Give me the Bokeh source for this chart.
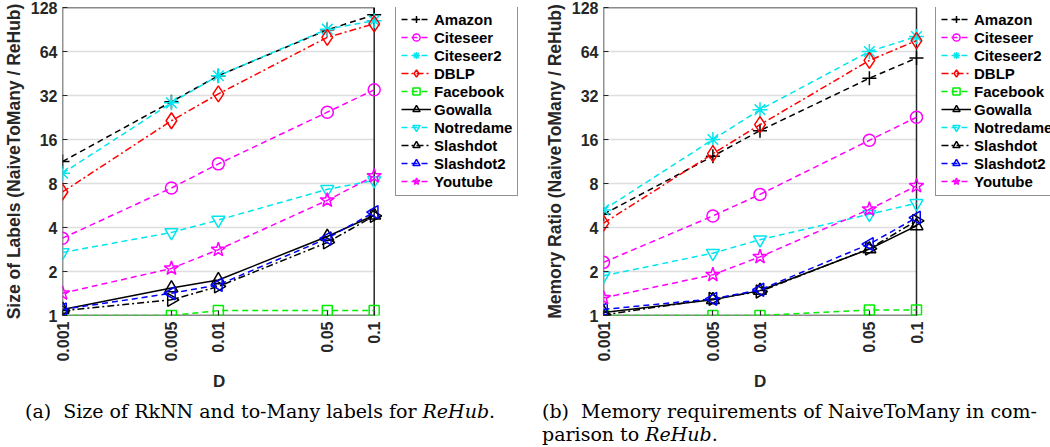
import math
from bokeh.plotting import figure
from bokeh.models import FixedTicker, Legend, Div, BoxAnnotation, Title
from bokeh.layouts import row, column
from bokeh.embed import file_html
from bokeh.resources import INLINE

# ---------------- data ----------------
D = [0.001, 0.005, 0.01, 0.05, 0.1]
d_labels = ["0.001", "0.005", "0.01", "0.05", "0.1"]
y_ticks = [1, 2, 4, 8, 16, 32, 64, 128]

names = ["Amazon", "Citeseer", "Citeseer2", "DBLP", "Facebook",
         "Gowalla", "Notredame", "Slashdot", "Slashdot2", "Youtube"]

# (a) size of labels ratio
labels_amazon = [11.3, 29.0, 43.7, 90.0, 114.0]
labels_citeseer = [3.38, 7.45, 10.9, 24.6, 35.0]
labels_citeseer2 = [9.4, 28.5, 43.7, 91.0, 104.0]
labels_dblp = [7.0, 21.5, 32.8, 80.0, 99.0]
labels_facebook = [1.0, 1.0, 1.08, 1.08, 1.08]
labels_gowalla = [1.1, 1.54, 1.75, 3.47, 4.85]
labels_notredame = [2.7, 3.7, 4.5, 7.3, 8.4]
labels_slashdot = [1.08, 1.28, 1.58, 3.16, 4.8]
labels_slashdot2 = [1.1, 1.42, 1.62, 3.37, 5.1]
labels_youtube = [1.42, 2.1, 2.82, 6.14, 9.0]

# (b) memory ratio
memory_amazon = [4.93, 12.3, 18.4, 42.0, 57.7]
memory_citeseer = [2.31, 4.8, 6.74, 15.8, 22.7]
memory_citeseer2 = [5.28, 16.0, 25.6, 64.0, 81.0]
memory_dblp = [4.28, 12.8, 20.2, 55.6, 76.0]
memory_facebook = [1.0, 1.0, 1.0, 1.09, 1.09]
memory_gowalla = [1.05, 1.28, 1.48, 2.85, 4.1]
memory_notredame = [1.87, 2.67, 3.3, 4.93, 5.86]
memory_slashdot = [1.01, 1.30, 1.46, 2.87, 4.44]
memory_slashdot2 = [1.1, 1.30, 1.5, 3.08, 4.67]
memory_youtube = [1.32, 1.90, 2.52, 5.33, 7.7]

labels_series = [labels_amazon, labels_citeseer, labels_citeseer2, labels_dblp,
                 labels_facebook, labels_gowalla, labels_notredame,
                 labels_slashdot, labels_slashdot2, labels_youtube]
memory_series = [memory_amazon, memory_citeseer, memory_citeseer2, memory_dblp,
                 memory_facebook, memory_gowalla, memory_notredame,
                 memory_slashdot, memory_slashdot2, memory_youtube]

# ---------------- styles ----------------
DASH = "6 4"
DASHDOT = "7 3 2 3"
styles = {
    "Amazon":    dict(color="#000000", dash=DASH, marker="cross", size=14, angle=0.0),
    "Citeseer":  dict(color="#ff00ff", dash=DASH, marker="circle", size=12, angle=0.0),
    "Citeseer2": dict(color="#00e5ee", dash=DASH, marker="asterisk", size=15, angle=0.0),
    "DBLP":      dict(color="#ff0000", dash=DASHDOT, marker="diamond", size=16, angle=0.0),
    "Facebook":  dict(color="#00ee00", dash=DASH, marker="square", size=10, angle=0.0),
    "Gowalla":   dict(color="#000000", dash="solid", marker="triangle", size=13, angle=0.0),
    "Notredame": dict(color="#00e5ee", dash=DASH, marker="inverted_triangle", size=13, angle=0.0),
    "Slashdot":  dict(color="#000000", dash=DASHDOT, marker="triangle", size=13, angle=-math.pi / 2),
    "Slashdot2": dict(color="#0000ff", dash=DASH, marker="triangle", size=13, angle=math.pi / 2),
    "Youtube":   dict(color="#ff00ff", dash=DASH, marker="star", size=15, angle=0.0),
}

FONT = "Liberation Sans"
TXT = "#262626"
BOX_W = 313      # pixel width of the data box
FRAME_H = 309    # pixel height of the data box
LEG_H = 190


def style_axis(ax):
    ax.axis_line_color = None
    ax.major_tick_in = 5
    ax.major_tick_out = 0
    ax.major_tick_line_color = "#262626"
    ax.major_tick_line_width = 1.2
    ax.minor_tick_line_color = None
    ax.major_label_text_font = FONT
    ax.major_label_text_font_style = "bold"
    ax.major_label_text_font_size = "16px"
    ax.major_label_text_color = TXT
    ax.axis_label_text_font = FONT
    ax.axis_label_text_font_style = "bold"
    ax.axis_label_text_font_size = "17.5px"
    ax.axis_label_text_color = TXT
    ax.axis_label_standoff = 4


def make_panel(series, ylabel, width, left, legend_gap):
    frame_w = width - left
    decades = math.log10(D[-1] / D[0])
    x_end = D[0] * 10 ** (decades * frame_w / BOX_W)
    p = figure(width=width, height=395, x_axis_type="log", y_axis_type="log",
               x_range=(D[0], x_end), y_range=(y_ticks[0], y_ticks[-1]),
               output_backend="svg", toolbar_location=None,
               min_border_left=left, min_border_right=0,
               min_border_top=7, min_border_bottom=79)
    p.outline_line_color = None
    p.background_fill_color = "white"
    p.border_fill_color = "white"

    # horizontal grid lines only across the data box
    p.xgrid.grid_line_color = None
    p.ygrid.grid_line_color = None
    p.segment(x0=[D[0]] * len(y_ticks), x1=[D[-1]] * len(y_ticks), y0=y_ticks, y1=y_ticks,
              line_color="#dedede", line_width=1.5, level="underlay")

    items = []
    for name, ys in zip(names, series):
        s = styles[name]
        r1 = p.line(D, ys, line_color=s["color"], line_dash=s["dash"], line_width=1.5)
        r2 = p.scatter(D, ys, marker=s["marker"], size=s["size"], angle=s["angle"],
                       line_color=s["color"], fill_color=None, line_width=1.5)
        items.append((name, [r1, r2]))

    # the axes box
    p.add_layout(BoxAnnotation(left=D[0], right=D[-1], bottom=y_ticks[0], top=y_ticks[-1],
                               fill_alpha=0, line_color="#262626", line_alpha=1.0,
                               line_width=1.5, level="underlay"))

    p.xaxis.ticker = FixedTicker(ticks=D, minor_ticks=[])
    p.xaxis.major_label_overrides = {d: l for d, l in zip(D, d_labels)}
    p.xaxis.bounds = (D[0], D[-1])
    p.yaxis.ticker = FixedTicker(ticks=y_ticks, minor_ticks=[])
    p.yaxis.major_label_overrides = {t: str(t) for t in y_ticks}
    p.xaxis.major_label_orientation = math.pi / 2
    style_axis(p.xaxis[0])
    style_axis(p.yaxis[0])
    p.xaxis.major_label_standoff = 6
    p.yaxis.major_label_standoff = 5
    p.yaxis.axis_label = ylabel

    # x axis title "D", centred under the data box (D is ~12 px wide)
    xt = Title(text="D", align="left", offset=BOX_W / 2 - 6,
               text_font=FONT, text_font_style="bold", text_font_size="17px",
               text_color=TXT)
    p.add_layout(xt, "below")

    leg = Legend(items=items, location=(BOX_W + legend_gap, FRAME_H - LEG_H), margin=0,
                 padding=5, spacing=0, glyph_width=30, glyph_height=18, label_height=18,
                 label_standoff=3, label_text_font=FONT,
                 label_text_font_style="bold", label_text_font_size="15px",
                 label_text_color="#000000", border_line_color="#262626",
                 border_line_width=1.5, background_fill_color="white",
                 background_fill_alpha=1.0)
    p.add_layout(leg, "center")
    return p


p1 = make_panel(labels_series, "Size of Labels (NaiveToMany / ReHub)", 540, 60, 20)
p2 = make_panel(memory_series, "Memory Ratio (NaiveToMany / ReHub)", 510, 63, 19)

cap_style = {"font-family": "'DejaVu Serif'", "font-size": "19px", "line-height": "23px",
             "white-space": "nowrap", "color": "#000000", "padding-top": "0px"}
div1 = Div(text="(a)&nbsp; Size of RkNN and to-Many labels for <i>ReHub</i>.",
           width=505, height=52, styles=dict(cap_style, **{"padding-left": "20px"}))
div2 = Div(text="(b)&nbsp; Memory requirements of NaiveToMany in com-<br>parison to <i>ReHub</i>.",
           width=503, height=52, styles=dict(cap_style, **{"padding-left": "22px"}))

layout = column(row(p1, p2, spacing=0), row(div1, div2, spacing=0), spacing=0)

open("out.html", "w").write(file_html(layout, INLINE))
